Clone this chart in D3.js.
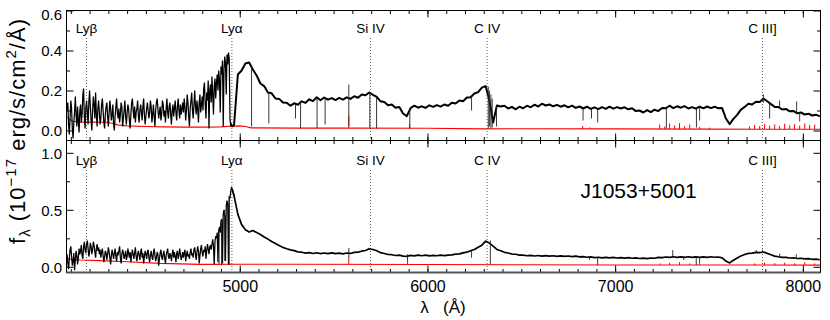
<!DOCTYPE html>
<html><head><meta charset="utf-8">
<script src="https://cdn.jsdelivr.net/npm/d3@7"></script>
<style>
body{margin:0;background:#fff;}
svg text{font-family:"Liberation Sans",Arial,Helvetica,sans-serif;fill:#000;}
</style>
</head><body>
<svg id="c" width="830" height="320"></svg>
<script>
// ---------------- DATA ----------------
const objectName = "J1053+5001";
const redshift = 3.0785;
const lineNames = ["Lyβ", "Lyα", "Si IV", "C IV", "C III]"];
const lineRestWave = [1025.72, 1215.67, 1396.76, 1549.06, 1908.73];

const xDomain = [4077, 8094];
const xMajorTicks = [5000, 6000, 7000, 8000];
const topYMajor = [0, 0.2, 0.4, 0.6];
const topYMinor = [0.1, 0.3, 0.5];
const botYMajor = [0, 0.5, 1.0];
const botYMinor = [0.25, 0.75];

// blue (noisy) part sampled every 4 A from 4080 to 4960
const blueGrid = d3.range(4080, 4961, 4);
// red part sampled every 20 A from 4970 to 8090
const redGrid = d3.range(4970, 8091, 20);

const topBlueFlux = [
 0.10,0.14,0.03,-0.02,0.06,0.15,0.11,0.01,-0.04,0.04,0.09,0.17,0.08,0.02,0.12,0.05,-0.01,0.10,
 0.13,0.04,0.08,0.18,0.21,0.07,0.01,0.11,0.15,0.09,0.03,0.14,0.20,0.12,0.05,0.00,0.10,0.17,0.13,0.06,0.19,0.08,0.02,0.11,0.15,
 0.09,0.03,0.06,0.13,0.16,0.10,0.04,0.01,0.08,0.12,0.14,0.07,0.02,0.09,0.15,0.11,0.05,0.08,0.13,0.03,
 0.00,0.07,0.12,0.16,0.09,0.06,0.11,0.04,0.08,0.14,0.12,0.02,0.06,0.10,0.15,0.07,0.03,0.09,0.13,0.11,
 0.05,0.01,0.08,0.14,0.16,0.10,0.06,0.12,0.04,0.09,
 0.11,0.15,0.07,0.04,0.10,0.13,0.09,0.05,0.12,0.16,0.08,0.03,0.07,0.11,0.14,0.10,0.06,0.09,0.15,0.12,
 0.04,0.08,0.13,0.07,0.02,0.10,0.14,0.16,0.11,0.06,0.09,0.12,0.05,0.08,0.15,0.13,0.07,0.10,0.04,0.11,
 0.16,0.09,0.06,0.12,0.14,0.08,0.03,0.10,0.13,0.07,0.11,0.15,0.09,0.05,0.12,0.16,0.10,0.06,0.13,0.08,
 0.11,0.14,
 0.09,0.16,0.12,0.05,0.10,0.18,0.14,0.07,0.02,0.11,0.15,0.19,0.10,0.06,0.13,0.20,0.12,0.08,0.15,0.11,
 0.04,0.14,0.18,0.09,0.13,
 0.17,0.10,0.21,0.24,0.13,0.06,0.19,0.15,0.25,0.01,0.20,0.23,0.14,0.27,0.18,0.08,0.22,0.26,0.16,0.24,0.28,
 0.20,0.30,0.25,0.09,0.32,0.28,0.35,0.02,0.30,0.37,0.34,0.18,0.38,0.33,0.39,0.36,
 0.06,0.02,0.03,0.02
];
const topRedFlux = [
 0.03,0.28,0.30,0.335,0.34,0.305,0.275,0.235,0.222,0.19,0.186,0.16,0.158,0.14,0.139,0.124,0.136,0.129,0.146,0.138,
 0.156,0.147,0.166,0.151,0.165,0.154,0.162,0.152,0.163,0.154,0.166,0.158,0.171,0.164,0.18,0.176,0.19,0.178,0.168,0.146,
 0.143,0.126,0.13,0.114,0.118,0.085,0.072,0.112,0.124,0.114,0.121,0.113,0.126,0.118,0.127,0.119,0.13,0.124,0.139,0.135,
 0.15,0.146,0.165,0.166,0.185,0.192,0.214,0.222,0.15,0.04,0.125,0.12,0.124,0.11,0.118,0.106,0.119,0.111,0.124,0.116,
 0.129,0.12,0.134,0.125,0.13,0.121,0.128,0.119,0.126,0.116,0.124,0.113,0.12,0.11,0.119,0.108,0.116,0.107,0.117,0.108,
 0.119,0.109,0.117,0.11,0.116,0.106,0.111,0.097,0.1,0.09,0.102,0.092,0.104,0.097,0.113,0.111,0.124,0.112,0.121,0.114,
 0.122,0.11,0.117,0.109,0.119,0.111,0.12,0.112,0.119,0.111,0.112,0.06,0.032,0.058,0.078,0.104,0.118,0.134,0.13,0.144,
 0.142,0.16,0.146,0.132,0.118,0.117,0.105,0.108,0.096,0.098,0.086,0.09,0.08,0.084,0.075,0.079,0.071
];
// narrow features: [wavelength, low, high]
const topSpikes = [
 [5063,0.02,0.32],[5155,0.035,0.19],[5297,0.06,0.13],[5324,0.01,0.135],[5412,0.01,0.16],[5455,0.03,0.16],
 [5581,0.02,0.23],[5693,0.012,0.19],[5729,0.01,0.17],[5906,0.01,0.11],[6235,0.1,0.17],[6324,0.01,0.22],
 [6331,0.02,0.2],[6338,0.01,0.18],[6345,0.015,0.16],[6368,0.02,0.12],[6829,0.05,0.115],[6874,0.06,0.11],
 [6907,0.04,0.11],[7273,0.01,0.11],[7433,0.015,0.115],[7450,0.05,0.115],[7790,0.14,0.18],[7823,0.06,0.14],
 [7876,0.11,0.15],[7967,0.085,0.145],[7983,0.045,0.09]
];
const topErrWave = [4077,4090,4110,4150,4200,4290,4320,4350,4400,4500,4600,4700,4800,4900,4950,5000,5030,5060,5300,5600,6000,6300,6500,7000,7500,8094];
const topErrFlux = [0.067,0.058,0.046,0.042,0.042,0.041,0.036,0.028,0.023,0.02,0.018,0.017,0.017,0.018,0.021,0.023,0.02,0.013,0.012,0.012,0.011,0.008,0.009,0.008,0.007,0.006];
const topErrSpikes = [
 [5581,0.012,0.075],[5905,0.01,0.032],[6827,0.008,0.023],[6865,0.008,0.016],[7237,0.007,0.03],[7264,0.007,0.02],
 [7290,0.007,0.035],[7317,0.007,0.025],[7343,0.007,0.037],[7370,0.007,0.022],[7397,0.007,0.03],[7450,0.007,0.018],
 [7503,0.007,0.014],[7716,0.006,0.02],[7743,0.006,0.028],[7770,0.006,0.022],[7796,0.006,0.033],[7823,0.006,0.025],
 [7850,0.006,0.03],[7876,0.006,0.022],[7903,0.006,0.034],[7930,0.006,0.026],[7956,0.006,0.032],[7983,0.006,0.024],
 [8010,0.006,0.036],[8036,0.006,0.028],[8063,0.006,0.03]
];

const botBlueFlux = [
 0.11,0.03,-0.02,0.07,0.15,0.18,0.09,0.01,0.05,0.12,-0.03,0.06,0.14,0.10,0.02,0.08,0.16,0.11,
 0.14,0.19,0.10,0.07,0.17,0.22,0.15,0.12,0.20,0.23,0.16,0.09,0.13,0.21,0.18,0.11,0.15,0.22,0.19,0.13,
 0.08,0.16,0.20,0.14,0.17,0.11,0.15,
 0.08,0.13,0.16,0.10,0.04,0.09,0.14,0.12,0.06,0.11,0.17,0.13,0.08,0.02,0.10,0.15,0.11,0.07,0.12,0.16,
 0.09,0.05,0.13,0.10,0.14,0.18,0.08,0.03,0.11,0.15,0.12,0.07,0.10,0.14,0.06,0.09,0.16,0.12,0.08,0.13,
 0.04,0.10,0.15,0.11,0.07,0.12,0.17,0.09,0.05,0.11,0.14,0.10,0.06,0.13,0.16,0.08,0.12,0.03,0.09,0.14,
 0.11,0.07,0.13,0.15,0.08,0.04,0.10,0.14,0.09,0.06,0.12,0.16,0.10,0.05,0.08,0.13,0.11,0.01,0.07,0.12,
 0.15,0.09,0.06,0.11,0.14,0.08,0.03,0.10,0.13,0.16,0.09,0.07,0.12,0.10,0.05,0.11,0.15,0.08,0.13,0.09,
 0.04,0.12,0.14,0.07,0.10,0.16,0.11,0.06,0.09,0.13,0.08,0.12,0.15,0.05,0.10,0.14,0.09,0.11,0.07,0.13,
 0.16,0.10,
 0.12,0.08,0.15,0.17,0.11,0.06,0.13,0.18,0.14,0.03,0.10,0.16,0.19,0.12,0.09,0.15,0.13,0.18,0.07,0.14,
 0.20,0.16,0.11,0.17,0.19,0.15,
 0.20,0.24,0.18,0.02,0.22,0.27,0.25,0.30,0.04,0.32,0.35,0.30,0.40,
 0.42,0.03,0.46,0.50,0.44,0.05,0.53,0.58,0.55,0.02,0.62,0.60,0.66,0.70,0.68
];
const botRedFlux = [
 0.62,0.46,0.37,0.325,0.305,0.318,0.3,0.283,0.262,0.243,0.222,0.205,0.186,0.17,0.158,0.149,0.142,0.131,0.128,0.12,
 0.124,0.117,0.123,0.116,0.121,0.115,0.122,0.116,0.12,0.114,0.121,0.117,0.126,0.128,0.137,0.143,0.158,0.152,0.141,0.124,
 0.117,0.108,0.106,0.099,0.102,0.094,0.092,0.1,0.096,0.103,0.097,0.102,0.096,0.101,0.097,0.103,0.098,0.102,0.104,0.111,
 0.113,0.122,0.128,0.141,0.152,0.172,0.19,0.225,0.208,0.182,0.152,0.141,0.127,0.121,0.112,0.11,0.103,0.102,0.097,0.1,
 0.095,0.099,0.094,0.098,0.093,0.097,0.092,0.096,0.091,0.095,0.09,0.093,0.087,0.09,0.084,0.087,0.081,0.084,0.079,0.083,
 0.078,0.082,0.077,0.081,0.076,0.08,0.075,0.078,0.073,0.076,0.072,0.077,0.075,0.082,0.08,0.086,0.082,0.088,0.083,0.087,
 0.082,0.088,0.083,0.087,0.082,0.087,0.083,0.088,0.084,0.086,0.079,0.05,0.034,0.058,0.078,0.095,0.108,0.118,0.12,0.126,
 0.124,0.13,0.118,0.106,0.094,0.088,0.083,0.082,0.077,0.078,0.073,0.075,0.07,0.071,0.066,0.067,0.062
];
const botSpikes = [
 [4890,0.02,0.3],[4903,0.015,0.42],[4920,0.05,0.5],[4944,0.015,0.62],[5581,0.085,0.165],[5894,0.06,0.11],
 [6235,0.08,0.14],[6335,0.02,0.23],[6864,0.06,0.09],[6907,0.015,0.085],[7307,0.08,0.147],[7365,0.06,0.095],
 [7432,0.015,0.085],[7450,0.03,0.085],[7752,0.12,0.147],[7785,0.12,0.15],[7876,0.08,0.115],[7965,0.07,0.11]
];
const botErrWave = [4077,4100,4150,4250,4400,4575,4790,5000,5300,6000,6500,7000,8094];
const botErrFlux = [0.074,0.066,0.059,0.054,0.044,0.03,0.021,0.022,0.022,0.02,0.018,0.016,0.015];
const botErrSpikes = [
 [5581,0.02,0.09],[5894,0.02,0.07],[7240,0.016,0.03],[7290,0.016,0.035],[7343,0.016,0.04],[7397,0.016,0.03],
 [7450,0.016,0.028],[7743,0.015,0.03],[7796,0.015,0.038],[7850,0.015,0.032],[7903,0.015,0.036],[7956,0.015,0.03],
 [8010,0.015,0.04],[8063,0.015,0.03]
];

// ---------------- DRAW ----------------
const svg = d3.select('#c');
const x = d3.scaleLinear().domain(xDomain).range([66.5, 820.5]);
const xMinorTicks = d3.range(4100, 8095, 100);

const panels = [
 {y: d3.scaleLinear().domain([-0.05, 0.6]).range([140.5, 10.5]), top: 10.5, bottom: 140.5,
  blue: topBlueFlux, red: topRedFlux, spikes: topSpikes, errW: topErrWave, errF: topErrFlux, errS: topErrSpikes,
  yMaj: topYMajor, yMin: topYMinor, xLabels: false, labelDy: 22.5, lw: 2.0},
 {y: d3.scaleLinear().domain([-0.05, 1.108]).range([272.5, 140.5]), top: 140.5, bottom: 272.5,
  blue: botBlueFlux, red: botRedFlux, spikes: botSpikes, errW: botErrWave, errF: botErrFlux, errS: botErrSpikes,
  yMaj: botYMajor, yMin: botYMinor, xLabels: true, labelDy: 24.5, lw: 1.7}
];

panels.forEach((p, pi) => {
  const y = p.y;
  const clipId = 'clip' + pi;
  svg.append('clipPath').attr('id', clipId).append('rect')
    .attr('x', x.range()[0]).attr('y', p.top).attr('width', x.range()[1] - x.range()[0]).attr('height', p.bottom - p.top);
  const g = svg.append('g').attr('clip-path', `url(#${clipId})`);
  const line = d3.line().x(d => x(d[0])).y(d => y(d[1]));

  // error spectrum
  const err = p.errW.map((w, i) => [w, p.errF[i]]);
  g.append('path').datum(err).attr('d', line).attr('fill', 'none').attr('stroke', '#ff0000').attr('stroke-width', 1.1);
  g.selectAll('.es').data(p.errS).enter().append('line')
    .attr('x1', d => x(d[0])).attr('x2', d => x(d[0])).attr('y1', d => y(d[1])).attr('y2', d => y(d[2]))
    .attr('stroke', '#ff0000').attr('stroke-width', 1);

  // flux spectrum
  const blue = blueGrid.map((w, i) => [w, p.blue[i]]);
  const red = redGrid.map((w, i) => [w, p.red[i]]);
  g.append('path').datum(blue.concat(red.slice(0,1))).attr('d', line).attr('fill', 'none')
    .attr('stroke', '#000').attr('stroke-width', 1.25);
  g.append('path').datum(blue.slice(-1).concat(red)).attr('d', line).attr('fill', 'none')
    .attr('stroke', '#000').attr('stroke-width', p.lw).attr('stroke-linejoin', 'round');
  g.selectAll('.sp').data(p.spikes).enter().append('line')
    .attr('x1', d => x(d[0])).attr('x2', d => x(d[0])).attr('y1', d => y(d[1])).attr('y2', d => y(d[2]))
    .attr('stroke', '#222').attr('stroke-width', 0.9);

  // emission line markers
  const lg = svg.append('g');
  lineRestWave.forEach((rw, i) => {
    const lx = x(rw * (1 + redshift));
    lg.append('line').attr('x1', lx).attr('x2', lx).attr('y1', p.top + p.labelDy + 5).attr('y2', p.bottom)
      .attr('stroke', '#333').attr('stroke-width', 0.8).attr('stroke-dasharray', '1,2');
    lg.append('text').attr('x', lx).attr('y', p.top + p.labelDy).attr('text-anchor', 'middle')
      .style('font-size', '13.5px').text(lineNames[i]);
  });

  // frame
  svg.append('rect').attr('x', x.range()[0]).attr('y', p.top).attr('width', x.range()[1] - x.range()[0])
    .attr('height', p.bottom - p.top).attr('fill', 'none').attr('stroke', '#000').attr('stroke-width', 1);

  const styleAxis = a => { a.select('.domain').remove(); a.selectAll('line').attr('stroke', '#000'); };
  // x axes
  const xb = svg.append('g').attr('transform', `translate(0,${p.bottom})`)
    .call(d3.axisBottom(x).tickValues(xMajorTicks).tickSize(-7).tickSizeOuter(0).tickPadding(8)
      .tickFormat(p.xLabels ? d3.format('d') : () => '')).call(styleAxis);
  xb.selectAll('text').style('font-size', '16px').attr('font-family', null);
  svg.append('g').attr('transform', `translate(0,${p.bottom})`)
    .call(d3.axisBottom(x).tickValues(xMinorTicks).tickSize(-3.5).tickSizeOuter(0).tickFormat(() => '')).call(styleAxis);
  svg.append('g').attr('transform', `translate(0,${p.top})`)
    .call(d3.axisTop(x).tickValues(xMajorTicks).tickSize(-7).tickSizeOuter(0).tickFormat(() => '')).call(styleAxis);
  svg.append('g').attr('transform', `translate(0,${p.top})`)
    .call(d3.axisTop(x).tickValues(xMinorTicks).tickSize(-3.5).tickSizeOuter(0).tickFormat(() => '')).call(styleAxis);
  // y axes
  const yl = svg.append('g').attr('transform', `translate(${x.range()[0]},0)`)
    .call(d3.axisLeft(y).tickValues(p.yMaj).tickSize(-7).tickSizeOuter(0).tickPadding(4.5).tickFormat(d3.format('.1f'))).call(styleAxis);
  yl.selectAll('text').style('font-size', '15px').attr('font-family', null)
    .attr('dy', d => (y(d) - p.top < 5 ? '0.62em' : '0.35em'));
  svg.append('g').attr('transform', `translate(${x.range()[0]},0)`)
    .call(d3.axisLeft(y).tickValues(p.yMin).tickSize(-3.5).tickSizeOuter(0).tickFormat(() => '')).call(styleAxis);
  svg.append('g').attr('transform', `translate(${x.range()[1]},0)`)
    .call(d3.axisRight(y).tickValues(p.yMaj).tickSize(-7).tickSizeOuter(0).tickFormat(() => '')).call(styleAxis);
  svg.append('g').attr('transform', `translate(${x.range()[1]},0)`)
    .call(d3.axisRight(y).tickValues(p.yMin).tickSize(-3.5).tickSizeOuter(0).tickFormat(() => '')).call(styleAxis);
});

// heavier bottom axis line
svg.append('line').attr('x1', x.range()[0]).attr('x2', x.range()[1]).attr('y1', 272.5).attr('y2', 272.5)
  .attr('stroke', '#555').attr('stroke-width', 2);

// object name
svg.append('text').attr('x', 580.5).attr('y', 198).style('font-size', '21px').text(objectName);

// x title
svg.append('text').attr('x', 443).attr('y', 313).attr('text-anchor', 'middle').style('font-size', '17px')
  .style('white-space', 'pre').text('λ   (Å)');

// y title
const yt = svg.append('text').attr('transform', 'translate(25,131) rotate(-90)').attr('text-anchor', 'middle')
  .style('font-size', '22px').style('letter-spacing', '1px');
yt.append('tspan').text('f');
yt.append('tspan').attr('dy', 5).style('font-size', '15px').text('λ');
yt.append('tspan').attr('dy', -5).text(' (10');
yt.append('tspan').attr('dy', -9).style('font-size', '15px').text('−17');
yt.append('tspan').attr('dy', 9).text(' erg/s/cm');
yt.append('tspan').attr('dy', -9).style('font-size', '15px').text('2');
yt.append('tspan').attr('dy', 9).text('/Å)');
</script>
</body></html>
